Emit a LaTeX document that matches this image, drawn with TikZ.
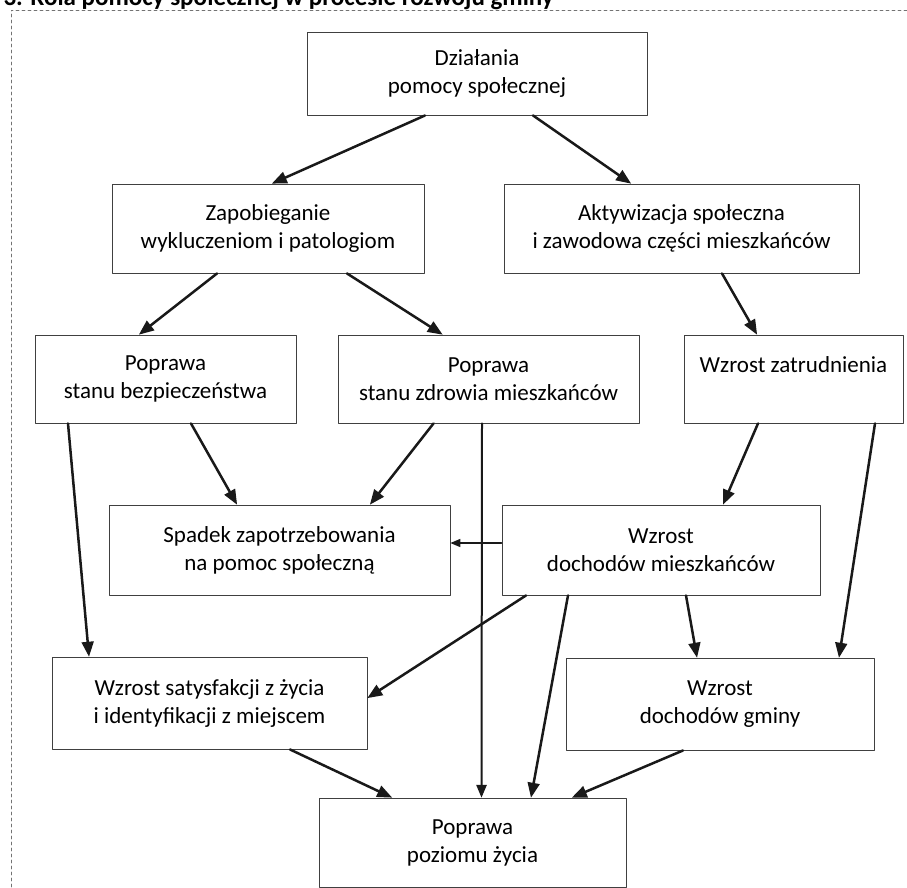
\documentclass[tikz,border=0pt]{standalone}
\usepackage{fontspec}
\usepackage{tikz}
\usetikzlibrary{arrows}
\setmainfont{Carlito}
\tikzstyle{every node}=[font=\fontsize{23}{28}\selectfont]

\begin{document}
\begin{tikzpicture}[line cap=round,line join=round,>=triangle 45,x=1pt,y=-1pt,
  box/.style={draw=black!75,line width=0.9pt,fill=white,align=center,inner sep=0pt},
  arr/.style={->,line width=2.5pt,black!90},
  thin arr/.style={->,line width=1.3pt,black!90}]
\clip (0,0) rectangle (907,887);
\node [anchor=base west,font=\fontsize{25}{28}\selectfont\bfseries] (tytul) at (0,5) {3. Rola pomocy społecznej w procesie rozwoju gminy};
\draw [black!55,dashed,line width=0.6pt] (11,887) -- (11,10) -- (907,10);
\node [box,minimum width=340pt,minimum height=83pt] (dzialania) at (477,73.5) {Działania\\pomocy społecznej};
\node [box,minimum width=312pt,minimum height=89pt] (zapobieganie) at (268,228.5) {Zapobieganie\\wykluczeniom i patologiom};
\node [box,minimum width=355pt,minimum height=89pt] (aktywizacja) at (681.5,228.5) {Aktywizacja społeczna\\i zawodowa części mieszkańców};
\node [box,minimum width=261pt,minimum height=88pt] (bezpieczenstwo) at (165.5,379) {Poprawa\\stanu bezpieczeństwa};
\node [box,minimum width=301pt,minimum height=88pt] (zdrowie) at (488.5,379) {Poprawa\\stanu zdrowia mieszkańców};
\node [box,minimum width=219pt,minimum height=88pt] (zatrudnienie) at (793.5,379) {Wzrost zatrudnienia\\~};
\node [box,minimum width=341pt,minimum height=90pt] (spadek) at (279.5,550) {Spadek zapotrzebowania\\na pomoc społeczną};
\node [box,minimum width=318pt,minimum height=90pt] (dochodyM) at (661,550) {Wzrost\\dochodów mieszkańców};
\node [box,minimum width=315pt,minimum height=92pt] (satysfakcja) at (209.5,703) {Wzrost satysfakcji z życia\\i identyfikacji z miejscem};
\node [box,minimum width=308pt,minimum height=92pt] (dochodyG) at (720,704) {Wzrost\\dochodów gminy};
\node [box,minimum width=307pt,minimum height=89pt] (poziom) at (472.5,842.5) {Poprawa\\poziomu życia};
\draw [arr] ([xshift=-52pt]dzialania.south) -- ([xshift=4pt]zapobieganie.north);
\draw [arr] ([xshift=56pt]dzialania.south) -- ([xshift=-50.5pt]aktywizacja.north);
\draw [arr] ([xshift=-51pt]zapobieganie.south) -- ([xshift=-26.5pt]bezpieczenstwo.north);
\draw [arr] ([xshift=79pt]zapobieganie.south) -- ([xshift=-46pt]zdrowie.north);
\draw [arr] ([xshift=40.5pt]aktywizacja.south) -- ([xshift=-36.5pt]zatrudnienie.north);
\draw [arr] ([xshift=-97.5pt]bezpieczenstwo.south) -- ([xshift=-120.5pt]satysfakcja.north);
\draw [arr] ([xshift=25.5pt]bezpieczenstwo.south) -- ([xshift=-42.5pt]spadek.north);
\draw [arr] ([xshift=-55pt]zdrowie.south) -- ([xshift=90.5pt]spadek.north);
\draw [->,line width=2pt,black!90] ([xshift=-6.5pt]zdrowie.south) -- ([xshift=9pt]poziom.north);
\draw [arr] ([xshift=-35.5pt]zatrudnienie.south) -- ([xshift=62pt]dochodyM.north);
\draw [arr] ([xshift=81.5pt]zatrudnienie.south) -- ([xshift=119pt]dochodyG.north);
\draw [thin arr] ([yshift=7pt]dochodyM.west) -- ([yshift=7pt]spadek.east);
\draw [arr] ([xshift=-135pt]dochodyM.south) -- ([yshift=5pt]satysfakcja.east);
\draw [arr] ([xshift=-93pt]dochodyM.south) -- ([xshift=58.5pt]poziom.north);
\draw [arr] ([xshift=25pt]dochodyM.south) -- ([xshift=-23pt]dochodyG.north);
\draw [arr] ([xshift=80.5pt]satysfakcja.south) -- ([xshift=-80.5pt]poziom.north);
\draw [arr] ([xshift=-37pt]dochodyG.south) -- ([xshift=99.5pt]poziom.north);
\end{tikzpicture}
\end{document}
